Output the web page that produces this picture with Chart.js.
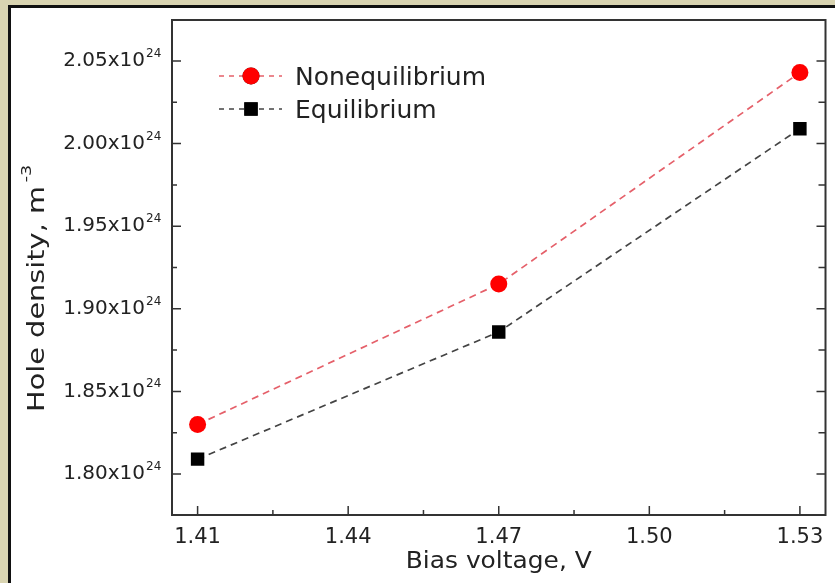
<!DOCTYPE html>
<html lang="en">
<head>
    <meta charset="UTF-8">
    <title>Hole density vs bias voltage</title>
    <script src="https://cdn.jsdelivr.net/npm/chart.js@4.4.1/dist/chart.umd.min.js"></script>
    <style>
        html, body {
            margin: 0;
            padding: 0;
            width: 835px;
            height: 583px;
            overflow: hidden;
            background-color: #d9d4b1;
        }
        #panel {
            position: absolute;
            left: 8px;
            top: 5px;
            width: 840px;
            height: 600px;
            border-left: 3px solid #111;
            border-top: 3px solid #111;
            background-color: #fff;
        }
        #holeChart {
            position: absolute;
            left: 0;
            top: 0;
        }
    </style>
</head>
<body>
    <div id="panel"></div>
    <canvas id="holeChart" width="835" height="583"></canvas>

    <script>
        // Data (hole density in units of 1e24 m^-3)
        const biasVoltage = [1.41, 1.47, 1.53];
        const nonequilibrium = [1.830, 1.915, 2.043];
        const equilibrium = [1.809, 1.886, 2.009];

        // Axis ticks
        const xTicks = [1.41, 1.44, 1.47, 1.50, 1.53];
        const yTicks = [1.80, 1.85, 1.90, 1.95, 2.00, 2.05];

        const FONT = "'DejaVu Sans', Verdana, sans-serif";
        const INK = '#222';

        // Draws the frame, inward ticks, labels, titles and legend
        const figurePlugin = {
            id: 'figure',
            afterDraw(chart) {
                const ctx = chart.ctx;
                const area = chart.chartArea;
                const xs = chart.scales.x;
                const ys = chart.scales.y;
                ctx.save();

                // frame
                ctx.strokeStyle = '#333';
                ctx.lineWidth = 2;
                ctx.strokeRect(area.left, area.top, area.right - area.left, area.bottom - area.top);

                // x ticks (major + minor), bottom only
                ctx.lineWidth = 1.5;
                ctx.beginPath();
                xTicks.forEach((v, i) => {
                    const px = xs.getPixelForValue(v);
                    ctx.moveTo(px, area.bottom);
                    ctx.lineTo(px, area.bottom - 9);
                    if (i < xTicks.length - 1) {
                        const mx = xs.getPixelForValue((v + xTicks[i + 1]) / 2);
                        ctx.moveTo(mx, area.bottom);
                        ctx.lineTo(mx, area.bottom - 5);
                    }
                });
                // y ticks, left and right
                yTicks.forEach((v, i) => {
                    const py = ys.getPixelForValue(v);
                    ctx.moveTo(area.left, py);
                    ctx.lineTo(area.left + 9, py);
                    ctx.moveTo(area.right, py);
                    ctx.lineTo(area.right - 9, py);
                    if (i < yTicks.length - 1) {
                        const my = ys.getPixelForValue((v + yTicks[i + 1]) / 2);
                        ctx.moveTo(area.left, my);
                        ctx.lineTo(area.left + 5, my);
                        ctx.moveTo(area.right, my);
                        ctx.lineTo(area.right - 7, my);
                    }
                });
                ctx.stroke();

                ctx.fillStyle = INK;

                // x tick labels
                ctx.font = '21px ' + FONT;
                ctx.textAlign = 'center';
                ctx.textBaseline = 'alphabetic';
                xTicks.forEach(v => {
                    ctx.fillText(v.toFixed(2), xs.getPixelForValue(v), area.bottom + 28);
                });

                // y tick labels with superscript exponent
                yTicks.forEach(v => {
                    const py = ys.getPixelForValue(v);
                    ctx.font = '20px ' + FONT;
                    ctx.textAlign = 'right';
                    ctx.textBaseline = 'middle';
                    ctx.fillText(v.toFixed(2) + 'x10', area.left - 27, py);
                    ctx.font = '12px ' + FONT;
                    ctx.textAlign = 'left';
                    ctx.textBaseline = 'alphabetic';
                    ctx.fillText('24', area.left - 26, py - 4);
                });

                // x axis title (stretched along the text, as in the figure)
                ctx.font = '23px ' + FONT;
                ctx.textAlign = 'center';
                const xt = 'Bias voltage, V';
                const xStretch = 186 / ctx.measureText(xt).width;
                ctx.save();
                ctx.translate((area.left + area.right) / 2, 568);
                ctx.scale(xStretch, 1);
                ctx.fillText(xt, 0, 0);
                ctx.restore();

                // y axis title
                const yt = 'Hole density, m';
                const yLen = 226;
                ctx.font = '23px ' + FONT;
                const yStretch = yLen / ctx.measureText(yt).width;
                ctx.save();
                ctx.translate(44, 412);
                ctx.rotate(-Math.PI / 2);
                ctx.scale(yStretch, 1);
                ctx.textAlign = 'left';
                ctx.fillText(yt, 0, 0);
                ctx.font = '14px ' + FONT;
                ctx.fillText('-3', yLen / yStretch + 3, -13);
                ctx.restore();

                // legend
                chart.data.datasets.forEach((ds, i) => {
                    const cy = 76 + i * 33;
                    ctx.save();
                    ctx.strokeStyle = ds.borderColor;
                    ctx.lineWidth = 1.6;
                    ctx.setLineDash([5, 5]);
                    ctx.beginPath();
                    ctx.moveTo(219, cy);
                    ctx.lineTo(282, cy);
                    ctx.stroke();
                    ctx.restore();
                    Chart.helpers.drawPoint(ctx, {
                        pointStyle: ds.pointStyle,
                        radius: ds.pointRadius,
                        rotation: 0,
                        borderWidth: 0
                    }, 251, cy);
                    ctx.fillStyle = ds.pointBackgroundColor;
                    ctx.fill();
                    ctx.fillStyle = INK;
                    ctx.font = '25px ' + FONT;
                    ctx.textAlign = 'left';
                    ctx.textBaseline = 'middle';
                    ctx.fillText(ds.label, 295, cy + 2);
                });

                ctx.restore();
            }
        };

        const ctx = document.getElementById('holeChart').getContext('2d');
        new Chart(ctx, {
            type: 'line',
            data: {
                datasets: [
                    {
                        label: 'Nonequilibrium',
                        data: biasVoltage.map((x, i) => ({ x: x, y: nonequilibrium[i] })),
                        borderColor: '#e5606a',
                        borderWidth: 1.7,
                        borderDash: [7, 5],
                        pointStyle: 'circle',
                        pointRadius: 8.5,
                        pointBackgroundColor: '#ff0000',
                        pointBorderWidth: 0,
                        tension: 0
                    },
                    {
                        label: 'Equilibrium',
                        data: biasVoltage.map((x, i) => ({ x: x, y: equilibrium[i] })),
                        borderColor: '#444',
                        borderWidth: 1.7,
                        borderDash: [7, 5],
                        pointStyle: 'rect',
                        pointRadius: 9.5,
                        pointBackgroundColor: '#000',
                        pointBorderWidth: 0,
                        tension: 0
                    }
                ]
            },
            options: {
                responsive: false,
                animation: false,
                layout: {
                    padding: { left: 172, top: 20, right: 4, bottom: 68 }
                },
                plugins: {
                    legend: { display: false },
                    tooltip: { enabled: false }
                },
                scales: {
                    x: {
                        type: 'linear',
                        display: false,
                        min: 1.4049,
                        max: 1.5351
                    },
                    y: {
                        display: false,
                        min: 1.7752,
                        max: 2.0748
                    }
                }
            },
            plugins: [figurePlugin]
        });
    </script>
</body>
</html>
